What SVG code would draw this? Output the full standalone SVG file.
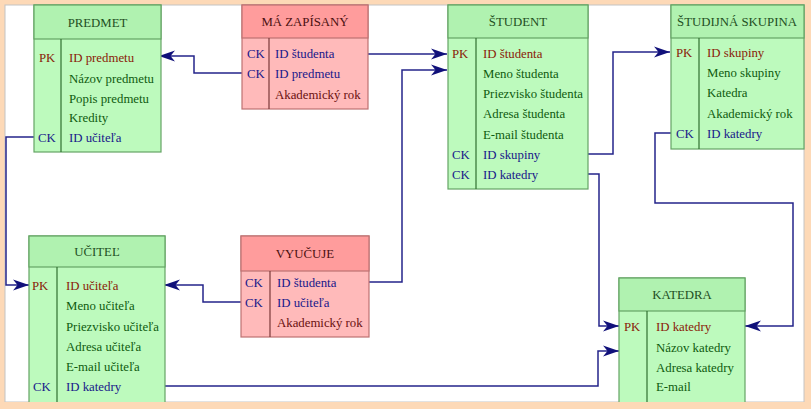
<svg xmlns="http://www.w3.org/2000/svg" width="811" height="409" viewBox="0 0 811 409" font-family="Liberation Serif, serif" font-size="12.8">
<style>
text{font-family:"Liberation Serif",serif;font-size:12.8px}
.g rect.b{fill:#bdfabd;stroke:#64a464;stroke-width:1.2}
.g rect.h{fill:#b0f2b0;stroke:#64a464;stroke-width:1.2}
.p rect.b{fill:#ffbaba;stroke:#bd7272;stroke-width:1.2}
.p rect.h{fill:#ff9c9c;stroke:#bd7272;stroke-width:1.2}
.g line{stroke:#2f6f2f;stroke-width:1.2}
.p line{stroke:#7a3a3a;stroke-width:1.2}
.g .t{fill:#1f4f1f;text-anchor:middle}
.p .t{fill:#4a1010;text-anchor:middle}
.a{fill:#0f5a0f}
.p .a{fill:#6a1010}
.pk{fill:#8a1a08}
.ck{fill:#18188a}
.c path{fill:none;stroke:#24248a;stroke-width:1.5}
</style>
<defs>
<marker id="ar" markerUnits="userSpaceOnUse" markerWidth="18" markerHeight="12" refX="16" refY="6" orient="auto">
<path d="M0,0.5 L16,6 L0,11.5 L4.5,6 Z" fill="#10107a"/>
</marker>
</defs>
<rect x="0" y="0" width="811" height="409" fill="#fdd9b7"/>
<rect x="5" y="5" width="799" height="397" fill="#ffffff" stroke="#c4c4c4" stroke-width="1"/>

<g class="c" id="connectors">
<path d="M242,73 H194 V56 H159" marker-end="url(#ar)"/>
<path d="M368,54 H447" marker-end="url(#ar)"/>
<path d="M369,282 H402 V70 H447" marker-end="url(#ar)"/>
<path d="M241,302 H203 V285 H164" marker-end="url(#ar)"/>
<path d="M34,137 H6 V285 H29" marker-end="url(#ar)"/>
<path d="M588,154 H613 V52 H670" marker-end="url(#ar)"/>
<path d="M588,174 H599 V326 H619" marker-end="url(#ar)"/>
<path d="M671,133 H655 V203 H793 V326 H745" marker-end="url(#ar)"/>
<path d="M165,386 H598 V351 H619" marker-end="url(#ar)"/>
</g>

<g id="predmet" class="g">
<rect class="b" x="34" y="5" width="127" height="147"/>
<rect class="h" x="34" y="5" width="127" height="34"/>
<line x1="61" y1="39" x2="61" y2="152"/>
<text class="t" x="97.5" y="27">PREDMET</text>
<text class="pk" x="39" y="62">PK</text><text class="pk" x="69" y="62">ID predmetu</text>
<text class="a" x="69" y="83">Názov predmetu</text>
<text class="a" x="69" y="103">Popis predmetu</text>
<text class="a" x="69" y="122">Kredity</text>
<text class="ck" x="38" y="142">CK</text><text class="ck" x="69" y="142">ID učiteľa</text>
</g>

<g id="ma-zapisany" class="p">
<rect class="b" x="242" y="5" width="126" height="104"/>
<rect class="h" x="242" y="5" width="126" height="33"/>
<line x1="269" y1="38" x2="269" y2="109"/>
<text class="t" x="305" y="26">MÁ ZAPÍSANÝ</text>
<text class="ck" x="247" y="58">CK</text><text class="ck" x="275" y="58">ID študenta</text>
<text class="ck" x="247" y="78">CK</text><text class="ck" x="275" y="78">ID predmetu</text>
<text class="a" x="275" y="99">Akademický rok</text>
</g>

<g id="student" class="g">
<rect class="b" x="448" y="5" width="140" height="184"/>
<rect class="h" x="448" y="5" width="140" height="33"/>
<line x1="476" y1="38" x2="476" y2="189"/>
<text class="t" x="518" y="26">ŠTUDENT</text>
<text class="pk" x="452" y="58">PK</text><text class="pk" x="483" y="58">ID študenta</text>
<text class="a" x="483" y="78">Meno študenta</text>
<text class="a" x="483" y="98">Priezvisko študenta</text>
<text class="a" x="483" y="118">Adresa študenta</text>
<text class="a" x="483" y="139">E-mail študenta</text>
<text class="ck" x="452" y="159">CK</text><text class="ck" x="483" y="159">ID skupiny</text>
<text class="ck" x="452" y="179">CK</text><text class="ck" x="483" y="179">ID katedry</text>
</g>

<g id="studijna-skupina" class="g">
<rect class="b" x="671" y="5" width="133" height="144"/>
<rect class="h" x="671" y="5" width="133" height="33"/>
<line x1="699" y1="38" x2="699" y2="149"/>
<text class="t" x="737" y="26">ŠTUDIJNÁ SKUPINA</text>
<text class="pk" x="676" y="57">PK</text><text class="pk" x="707" y="57">ID skupiny</text>
<text class="a" x="707" y="77">Meno skupiny</text>
<text class="a" x="707" y="97">Katedra</text>
<text class="a" x="707" y="118">Akademický rok</text>
<text class="ck" x="676" y="138">CK</text><text class="ck" x="707" y="138">ID katedry</text>
</g>

<g id="ucitel" class="g">
<rect class="b" x="29" y="236" width="136" height="170"/>
<rect class="h" x="29" y="236" width="136" height="31"/>
<line x1="57" y1="267" x2="57" y2="406"/>
<text class="t" x="97" y="256">UČITEĽ</text>
<text class="pk" x="32" y="290">PK</text><text class="pk" x="66" y="290">ID učiteľa</text>
<text class="a" x="66" y="310">Meno učiteľa</text>
<text class="a" x="66" y="331">Priezvisko učiteľa</text>
<text class="a" x="66" y="351">Adresa učiteľa</text>
<text class="a" x="66" y="371">E-mail učiteľa</text>
<text class="ck" x="33" y="391">CK</text><text class="ck" x="66" y="391">ID katedry</text>
</g>

<g id="vyucuje" class="p">
<rect class="b" x="241" y="236" width="128" height="101"/>
<rect class="h" x="241" y="236" width="128" height="35"/>
<line x1="270" y1="271" x2="270" y2="337"/>
<text class="t" x="305" y="258">VYUČUJE</text>
<text class="ck" x="245" y="287">CK</text><text class="ck" x="277" y="287">ID študenta</text>
<text class="ck" x="245" y="307">CK</text><text class="ck" x="277" y="307">ID učiteľa</text>
<text class="a" x="277" y="327">Akademický rok</text>
</g>

<g id="katedra" class="g">
<rect class="b" x="619" y="278" width="126" height="128"/>
<rect class="h" x="619" y="278" width="126" height="33"/>
<line x1="647" y1="311" x2="647" y2="406"/>
<text class="t" x="682" y="299">KATEDRA</text>
<text class="pk" x="624" y="331">PK</text><text class="pk" x="656" y="331">ID katedry</text>
<text class="a" x="656" y="352">Názov katedry</text>
<text class="a" x="656" y="372">Adresa katedry</text>
<text class="a" x="656" y="391">E-mail</text>
</g>

<rect x="0" y="402" width="811" height="7" fill="#fdd9b7"/>
</svg>
